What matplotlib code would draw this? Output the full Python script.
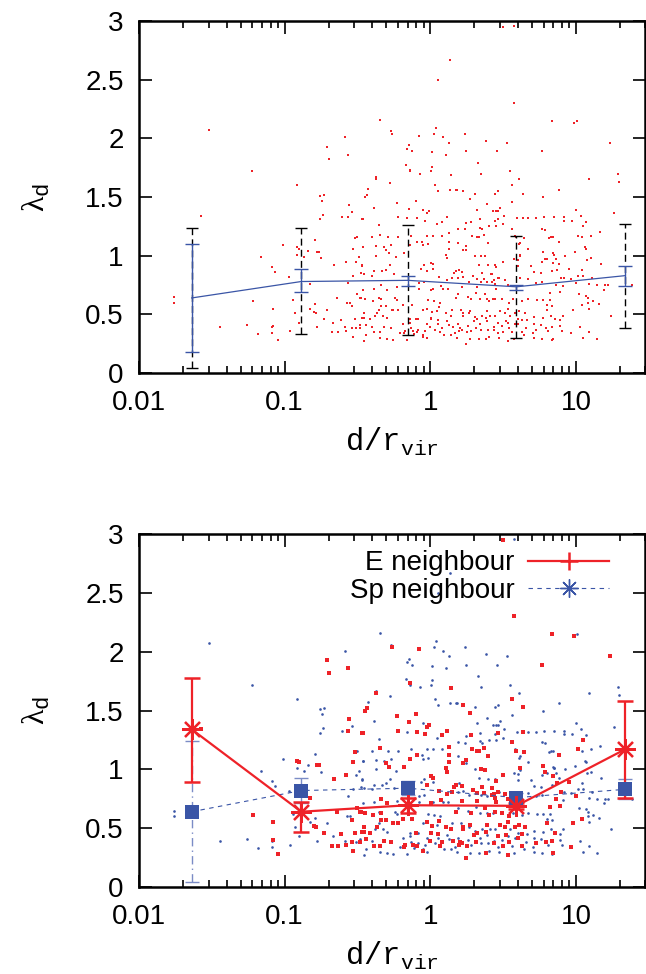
import numpy as np
import matplotlib.pyplot as plt
from matplotlib.lines import Line2D
from matplotlib.ticker import LogLocator, NullFormatter

plt.rcParams['font.family'] = ['Liberation Sans', 'DejaVu Sans']
plt.rcParams['mathtext.fontset'] = 'custom'
plt.rcParams['mathtext.tt'] = 'Liberation Mono'
plt.rcParams['mathtext.rm'] = 'Liberation Serif'

RED = '#ee2228'
BLUE = '#3a55a6'

# binned statistics (bin centres in d/r_vir)
bin_x = [0.023, 0.13, 0.70, 3.9, 21.7]

# top panel: all galaxies
all_med = [0.64, 0.78, 0.79, 0.735, 0.83]
all_in_lo = [0.18, 0.69, 0.745, 0.71, 0.745]
all_in_hi = [1.10, 0.885, 0.83, 0.75, 0.915]
all_out_lo = [0.04, 0.33, 0.32, 0.30, 0.38]
all_out_hi = [1.24, 1.24, 1.26, 1.17, 1.27]

# bottom panel: split by neighbour type
e_med = [1.34, 0.64, 0.695, 0.69, 1.17]
e_lo = [0.89, 0.47, 0.63, 0.66, 0.76]
e_hi = [1.78, 0.72, 0.76, 0.71, 1.58]
sp_med = [0.64, 0.82, 0.84, 0.76, 0.83]
sp_lo = [0.04, 0.71, 0.78, 0.72, 0.75]
sp_hi = [1.24, 0.93, 0.90, 0.80, 0.92]

# individual galaxies: (log10 d/r_vir, lambda_d)
e_pts = np.array([
    (-1.215, 0.61), (-1.577, 1.34),
    (-0.707, 1.93), (-0.563, 1.86), (-0.693, 1.82), (-0.556, 1.43), (-0.451, 1.50),
    (-0.565, 1.33), (-0.467, 1.31), (-0.515, 1.15), (-0.913, 1.07), (-0.899, 1.06),
    (-0.78, 1.035), (-0.767, 1.035), (-0.529, 1.06), (-0.577, 0.95), (-0.659, 0.92),
    (-0.824, 0.76), (-0.639, 0.64), (-0.506, 0.67), (-0.478, 0.64), (-0.536, 0.57),
    (-1.078, 0.55), (-0.80, 0.52), (-0.783, 0.51), (-0.728, 0.46), (-0.611, 0.45),
    (-0.515, 0.46), (-0.458, 0.47), (-1.08, 0.40), (-0.54, 0.38), (-0.485, 0.38),
    (-0.577, 0.36), (-0.673, 0.35), (-0.634, 0.35), (-1.043, 0.28), (-0.529, 0.31),
    (-0.263, 2.04), (-0.076, 2.02), (-0.14, 1.73), (0.142, 1.69), (-0.371, 1.65),
    (-0.433, 1.52), (-0.446, 1.50), (-0.229, 1.45), (-0.096, 1.47), (-0.147, 1.40),
    (-0.007, 1.38), (-0.023, 1.36), (-0.465, 1.31), (-0.22, 1.33), (-0.092, 1.32),
    (-0.037, 1.30), (0.082, 1.29), (0.116, 1.33), (0.126, 1.19), (-0.346, 1.18),
    (-0.092, 1.12), (-0.14, 1.09), (0.126, 1.12), (0.13, 1.06), (-0.302, 1.05),
    (-0.286, 1.02), (-0.179, 1.02), (0.11, 1.01), (0.116, 0.98), (0.004, 0.94),
    (0.016, 0.93), (-0.025, 0.87), (0.16, 0.85), (0.146, 0.81), (0.062, 0.82),
    (0.114, 0.79), (-0.337, 0.75), (-0.295, 0.71), (0.007, 0.71), (0.073, 0.74),
    (-0.483, 0.64), (-0.446, 0.63), (-0.394, 0.61), (-0.339, 0.63), (-0.305, 0.57),
    (-0.339, 0.57), (-0.188, 0.58), (-0.126, 0.58), (0.062, 0.56), (-0.021, 0.55),
    (0.009, 0.52), (0.107, 0.51), (0.139, 0.49), (-0.456, 0.51), (-0.364, 0.51),
    (-0.259, 0.54), (-0.222, 0.54), (-0.472, 0.47), (-0.414, 0.46), (0.004, 0.46),
    (0.05, 0.45), (-0.101, 0.46), (-0.44, 0.41), (-0.321, 0.39), (-0.272, 0.38),
    (-0.176, 0.36), (-0.121, 0.36), (-0.003, 0.39), (0.082, 0.38), (0.155, 0.39),
    (0.196, 0.36), (-0.389, 0.35), (-0.343, 0.35), (-0.179, 0.34), (-0.092, 0.35),
    (0.064, 0.35), (-0.048, 0.31),
    (0.50, 2.95), (0.576, 2.30), (0.837, 2.15), (0.768, 1.89), (0.226, 1.55),
    (0.562, 1.60), (0.638, 1.53), (0.274, 1.48), (0.462, 1.31), (0.638, 1.32),
    (0.281, 1.29), (0.562, 1.23), (0.585, 1.16), (0.645, 1.15), (0.283, 1.17),
    (0.32, 1.16), (0.332, 1.16), (0.37, 1.18), (0.395, 1.11), (0.245, 1.08),
    (0.222, 1.05), (0.35, 1.00), (0.373, 0.995), (0.617, 1.01), (0.773, 1.03),
    (0.789, 0.975), (0.844, 0.94), (0.45, 0.90), (0.50, 0.95), (0.42, 0.84),
    (0.174, 0.87), (0.219, 0.86), (0.293, 0.825), (0.318, 0.80), (0.352, 0.85),
    (0.37, 0.80), (0.42, 0.78), (0.439, 0.79), (0.462, 0.81), (0.514, 0.79),
    (0.443, 0.76), (0.535, 0.75), (0.219, 0.73), (0.32, 0.73), (0.453, 0.72),
    (0.176, 0.64), (0.277, 0.63), (0.375, 0.67), (0.405, 0.61), (0.446, 0.635),
    (0.489, 0.63), (0.542, 0.60), (0.535, 0.55), (0.478, 0.53), (0.512, 0.51),
    (0.581, 0.51), (0.611, 0.53), (0.65, 0.51), (0.803, 0.54), (0.222, 0.51),
    (0.274, 0.53), (0.389, 0.53), (0.222, 0.49), (0.30, 0.44), (0.32, 0.46),
    (0.38, 0.47), (0.462, 0.43), (0.519, 0.44), (0.604, 0.42), (0.627, 0.45),
    (0.796, 0.38), (0.837, 0.39), (0.201, 0.38), (0.217, 0.37), (0.251, 0.35),
    (0.313, 0.38), (0.437, 0.37), (0.496, 0.35), (0.54, 0.38), (0.627, 0.35),
    (0.727, 0.37), (0.384, 0.29), (0.535, 0.27), (0.242, 0.25),
    (0.988, 2.13), (1.235, 1.96), (1.05, 1.25), (1.016, 1.17), (0.885, 1.12),
    (0.949, 0.89), (0.867, 0.88), (0.899, 0.81), (0.999, 0.77), (0.864, 0.75),
    (0.892, 0.69), (0.821, 0.68), (1.043, 0.58), (0.981, 0.54), (0.858, 0.46),
    (0.967, 0.34), (0.839, 0.29),
])

sp_pts = np.array([
    (-1.52, 2.07), (-1.225, 1.72), (-1.163, 0.99), (-1.758, 0.65), (-1.758, 0.60),
    (-1.442, 0.395), (-1.259, 0.41), (-1.183, 0.33),
    (-0.586, 2.01), (-0.918, 1.60), (-0.757, 1.51), (-0.73, 1.52), (-0.746, 1.47),
    (-0.54, 1.37), (-0.739, 1.35), (-0.755, 1.31), (-0.609, 1.33), (-0.506, 1.16),
    (-0.794, 1.13), (-1.011, 1.09), (-0.84, 1.04), (-0.915, 1.01), (-0.87, 0.99),
    (-0.751, 0.98), (-0.462, 1.07), (-0.492, 0.99), (-0.508, 0.95), (-0.467, 0.92),
    (-1.087, 0.90), (-1.064, 0.86), (-0.968, 0.82), (-0.531, 0.83), (-0.476, 0.85),
    (-0.565, 0.77), (-0.945, 0.62), (-0.79, 0.59), (-0.824, 0.55), (-0.574, 0.60),
    (-0.549, 0.60), (-0.709, 0.54), (-0.929, 0.51), (-0.668, 0.43), (-0.902, 0.43),
    (-1.085, 0.39), (-1.085, 0.34), (-0.776, 0.39), (-0.584, 0.39), (-0.513, 0.38),
    (-0.966, 0.36),
    (0.05, 2.50), (-0.343, 2.16), (-0.27, 2.06), (0.041, 2.09), (0.025, 2.04),
    (0.084, 2.01), (0.128, 1.96), (-0.149, 1.94), (-0.163, 1.91), (-0.126, 1.89),
    (0.009, 1.88), (0.11, 1.86), (-0.165, 1.77), (-0.138, 1.72), (-0.071, 1.70),
    (0.002, 1.72), (0.013, 1.76), (-0.375, 1.67), (-0.275, 1.62), (0.032, 1.60),
    (0.05, 1.55), (0.132, 1.56), (0.178, 1.56), (-0.426, 1.57), (-0.387, 1.41),
    (-0.053, 1.39), (-0.16, 1.32), (-0.355, 1.26), (0.048, 1.27), (-0.403, 1.16),
    (-0.291, 1.16), (-0.224, 1.16), (-0.131, 1.17), (-0.025, 1.17), (0.02, 1.17),
    (0.08, 1.17), (-0.057, 1.12), (-0.048, 1.09), (-0.014, 1.10), (-0.46, 1.07),
    (-0.375, 1.08), (-0.318, 1.07), (-0.27, 1.09), (-0.238, 0.99), (-0.373, 1.00),
    (-0.062, 0.89), (-0.041, 0.92), (0.016, 0.89), (0.196, 0.88), (-0.467, 0.91),
    (-0.456, 0.84), (-0.385, 0.87), (-0.334, 0.87), (-0.302, 0.88), (-0.277, 0.92),
    (0.187, 0.81), (-0.40, 0.83), (-0.247, 0.84), (-0.041, 0.78), (-0.078, 0.77),
    (-0.076, 0.72), (-0.389, 0.72), (-0.231, 0.73), (0.02, 0.72), (0.089, 0.72),
    (0.119, 0.72), (-0.462, 0.71), (-0.355, 0.64), (-0.24, 0.64), (-0.227, 0.62),
    (-0.014, 0.62), (0.025, 0.61), (0.068, 0.60), (-0.35, 0.54), (-0.261, 0.54),
    (-0.048, 0.54), (0.043, 0.53), (0.148, 0.54), (-0.38, 0.49), (-0.327, 0.49),
    (-0.295, 0.47), (-0.142, 0.46), (-0.083, 0.46), (0.007, 0.47), (-0.481, 0.41),
    (-0.401, 0.39), (-0.19, 0.42), (-0.14, 0.43), (-0.021, 0.42), (0.05, 0.42),
    (0.112, 0.44), (0.13, 0.41), (-0.133, 0.38), (-0.083, 0.37), (-0.037, 0.36),
    (-0.208, 0.34), (0.034, 0.37), (-0.442, 0.32), (-0.346, 0.30), (-0.298, 0.29),
    (-0.112, 0.33), (-0.051, 0.32), (-0.025, 0.30), (0.091, 0.32), (0.142, 0.32),
    (0.171, 0.34), (-0.456, 0.27), (-0.254, 0.28), (-0.16, 0.28),
    (0.575, 2.96), (0.138, 2.67),
    (0.24, 2.04), (0.379, 1.98), (0.528, 1.96), (0.245, 1.89), (0.457, 1.89),
    (0.327, 1.79), (0.347, 1.70), (0.546, 1.72), (0.611, 1.65), (0.18, 1.56),
    (0.304, 1.53), (0.466, 1.55), (0.443, 1.53), (0.775, 1.50), (0.389, 1.44),
    (0.45, 1.38), (0.466, 1.38), (0.478, 1.41), (0.432, 1.38), (0.562, 1.46),
    (0.32, 1.39), (0.505, 1.34), (0.338, 1.31), (0.443, 1.30), (0.597, 1.32),
    (0.668, 1.32), (0.723, 1.32), (0.78, 1.33), (0.851, 1.33), (0.245, 1.28),
    (0.496, 1.27), (0.453, 1.25), (0.768, 1.23), (0.787, 1.22), (0.842, 1.16),
    (0.812, 1.15), (0.19, 1.23), (0.235, 1.225), (0.341, 1.24), (0.354, 1.225),
    (0.402, 1.25), (0.192, 1.11), (0.245, 1.05), (0.583, 1.17), (0.615, 1.11),
    (0.306, 1.00), (0.613, 0.995), (0.668, 1.06), (0.599, 0.96), (0.611, 1.10),
    (0.768, 0.95), (0.80, 0.97), (0.849, 1.01), (0.334, 0.925), (0.396, 0.92),
    (0.446, 0.92), (0.572, 0.97), (0.604, 0.91), (0.691, 0.91), (0.711, 0.86),
    (0.757, 0.85), (0.835, 0.87), (0.222, 0.82), (0.265, 0.78), (0.347, 0.78),
    (0.389, 0.775), (0.414, 0.84), (0.473, 0.81), (0.617, 0.81), (0.668, 0.80),
    (0.725, 0.77), (0.768, 0.78), (0.192, 0.675), (0.256, 0.65), (0.311, 0.68),
    (0.343, 0.63), (0.386, 0.63), (0.43, 0.63), (0.569, 0.63), (0.627, 0.61),
    (0.672, 0.63), (0.73, 0.62), (0.775, 0.62), (0.803, 0.58), (0.819, 0.62),
    (0.208, 0.54), (0.267, 0.51), (0.306, 0.48), (0.354, 0.49), (0.407, 0.49),
    (0.446, 0.49), (0.546, 0.49), (0.604, 0.46), (0.666, 0.45), (0.711, 0.48),
    (0.771, 0.47), (0.826, 0.49), (0.19, 0.42), (0.26, 0.40), (0.343, 0.415),
    (0.386, 0.44), (0.437, 0.39), (0.489, 0.40), (0.535, 0.43), (0.581, 0.42),
    (0.709, 0.42), (0.757, 0.41), (0.279, 0.36), (0.347, 0.37), (0.398, 0.37),
    (0.466, 0.34), (0.558, 0.35), (0.654, 0.38), (0.704, 0.34), (0.81, 0.36),
    (0.183, 0.30), (0.272, 0.29), (0.331, 0.29), (0.402, 0.31), (0.469, 0.30),
    (0.572, 0.29), (0.643, 0.32), (0.711, 0.30), (0.766, 0.29), (0.837, 0.28),
    (1.006, 2.15), (1.288, 1.70), (1.292, 1.63), (1.089, 1.65), (0.88, 1.56),
    (0.999, 1.39), (1.036, 1.34), (0.917, 1.33), (0.919, 1.30), (0.974, 1.30),
    (1.066, 1.29), (1.263, 1.36), (1.166, 1.20), (1.105, 1.17), (1.041, 1.16),
    (0.83, 1.16), (1.061, 1.07), (1.068, 1.06), (0.993, 1.03), (0.924, 1.00),
    (0.842, 1.02), (0.848, 1.01), (1.105, 0.98), (1.073, 0.966), (0.864, 0.97),
    (1.169, 0.93), (0.885, 0.93), (1.041, 0.88), (1.011, 0.83), (1.05, 0.83),
    (0.917, 0.81), (0.913, 0.74), (0.965, 0.80), (1.107, 0.81), (1.144, 0.75),
    (1.091, 0.76), (1.199, 0.75), (1.221, 0.75), (1.194, 0.71), (1.384, 0.75),
    (1.066, 0.66), (1.022, 0.67), (1.084, 0.64), (1.114, 0.61), (1.08, 0.60),
    (1.16, 0.59), (0.835, 0.57), (1.091, 0.55), (0.908, 0.49), (0.892, 0.45),
    (0.887, 0.40), (0.906, 0.36), (1.025, 0.39), (1.091, 0.35), (1.141, 0.29),
    (1.047, 0.30), (1.237, 0.49),
])

e_x, e_y = 10 ** e_pts[:, 0], e_pts[:, 1]
sp_x, sp_y = 10 ** sp_pts[:, 0], sp_pts[:, 1]
all_x = np.concatenate([e_x, sp_x])
all_y = np.concatenate([e_y, sp_y])

xticks = [0.01, 0.1, 1, 10]
xticklabels = ['0.01', '0.1', '1', '10']
yticks = [0, 0.5, 1, 1.5, 2, 2.5, 3]
yticklabels = ['0', '0.5', '1', '1.5', '2', '2.5', '3']


def style(ax):
    ax.set_xscale('log')
    ax.set_xlim(0.01, 30)
    ax.set_ylim(0, 3)
    ax.set_xticks(xticks)
    ax.set_xticklabels(xticklabels)
    ax.set_yticks(yticks)
    ax.set_yticklabels(yticklabels)
    ax.xaxis.set_minor_locator(LogLocator(base=10, subs=np.arange(2, 10)))
    ax.xaxis.set_minor_formatter(NullFormatter())
    ax.tick_params(which='both', direction='in', top=True, right=True,
                   width=1.2, labelsize=20)
    ax.tick_params(which='major', length=9)
    ax.tick_params(which='minor', length=5)
    ax.tick_params(axis='x', pad=12)
    ax.tick_params(axis='y', pad=11)
    for s in ax.spines.values():
        s.set_linewidth(1.8)
    ax.set_xlabel(r'$\mathtt{d/r_{vir}}$', fontsize=22, labelpad=7)
    ax.set_ylabel(r'$\mathrm{\lambda}_{\mathtt{d}}$', fontsize=23, labelpad=24)


fig = plt.figure(figsize=(6.46, 9.74), dpi=100)
ax1 = fig.add_axes([0.2152, 0.6170, 0.7840, 0.3614])
ax2 = fig.add_axes([0.2152, 0.0893, 0.7840, 0.3624])

# ---- top panel
ax1.plot(all_x, all_y, 's', color=RED, ms=1.9, mew=0, zorder=1)
out_err = [np.subtract(all_med, all_out_lo), np.subtract(all_out_hi, all_med)]
eb = ax1.errorbar(bin_x, all_med, yerr=out_err, fmt='none', ecolor='black',
                  elinewidth=1.0, capsize=4.5, capthick=1.0, zorder=2)
eb[2][0].set_linestyle((0, (5, 3)))
in_err = [np.subtract(all_med, all_in_lo), np.subtract(all_in_hi, all_med)]
ax1.errorbar(bin_x, all_med, yerr=in_err, fmt='-', color=BLUE, lw=0.9,
             elinewidth=1.0, capsize=5, capthick=1.0, zorder=3)
style(ax1)

# ---- bottom panel
ax2.plot(sp_x, sp_y, 'o', color=BLUE, ms=1.9, mew=0, zorder=1)
ax2.plot(e_x, e_y, 's', color=RED, ms=2.5, mew=0, zorder=1)

sp_err = [np.subtract(sp_med, sp_lo), np.subtract(sp_hi, sp_med)]
eb2 = ax2.errorbar(bin_x, sp_med, yerr=sp_err, fmt='none', ecolor='#7b8cc6',
                   elinewidth=1.0, capsize=5, capthick=1.0, zorder=2)
eb2[2][0].set_linestyle((0, (6, 3, 1, 3)))
ax2.plot(bin_x, sp_med, linestyle=(0, (4, 4)), color=BLUE, lw=0.8, zorder=2)
ax2.plot(bin_x, sp_med, 's', color=BLUE, ms=10, mew=0, zorder=4)

e_err = [np.subtract(e_med, e_lo), np.subtract(e_hi, e_med)]
ax2.errorbar(bin_x, e_med, yerr=e_err, fmt='-', color=RED, lw=1.6,
             elinewidth=1.6, capsize=5.5, capthick=1.8, zorder=3)
ax2.plot(bin_x, e_med, marker=(8, 2, 0), linestyle='none', color=RED,
         ms=15, mew=1.6, zorder=5)
style(ax2)

handles = [Line2D([], [], color=RED, lw=1.6, marker='+', ms=13, mew=1.8),
           Line2D([], [], color=BLUE, lw=0.8, linestyle=(0, (4, 4)),
                  marker=(8, 2, 0), ms=13, mew=1.0)]
ax2.legend(handles, ['E neighbour', 'Sp neighbour'], loc='upper right',
           frameon=False, markerfirst=False, fontsize=20, handlelength=2.9,
           handletextpad=0.5, labelspacing=0.05, borderaxespad=0.3,
           borderpad=0.2, bbox_to_anchor=(0.955, 0.993))

fig.savefig('out.png', dpi=100)
